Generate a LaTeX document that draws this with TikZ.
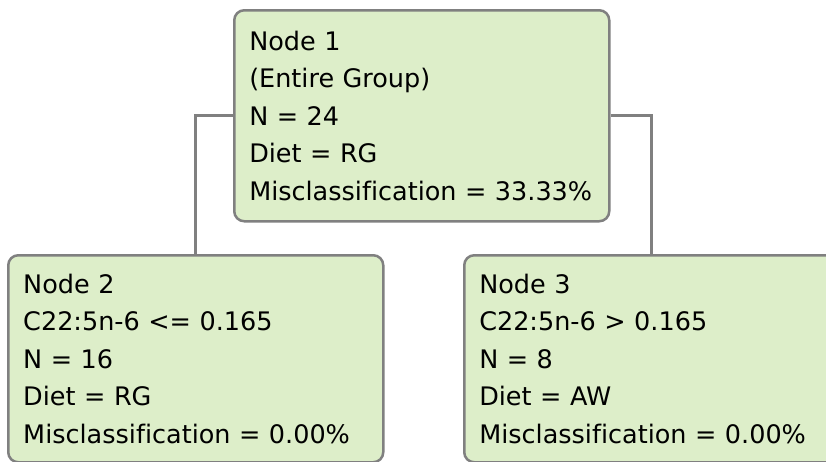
\documentclass[tikz,border=0pt]{standalone}
\usepackage{fontspec}
\setmainfont[Ligatures=NoCommon]{DejaVu Sans}
\usetikzlibrary{calc}

\definecolor{leafgreen}{RGB}{221,238,201}
\definecolor{edgegray}{RGB}{128,128,128}

\tikzset{
  treenode/.style={draw=edgegray, line width=2.5pt, fill=leafgreen,
    rounded corners=10pt, anchor=north west,
    minimum width=375pt, minimum height=211pt,
    text width=345pt, inner xsep=15pt, inner ysep=0pt, align=left,
    font=\fontsize{25.5}{37.5}\selectfont},
  branch/.style={edgegray, line width=3pt}
}

\begin{document}
\begin{tikzpicture}[x=1pt,y=-1pt]
        \useasboundingbox (0,0) rectangle (826,461);
        \clip (0,0) rectangle (826,461);
        \fill[white] (0,0) rectangle (826,461);
        % root
        \node[treenode] (n1) at (233,9) {Node 1\\(Entire Group)\\N = 24\\Diet = RG\\Misclassification = 33.33\%};
        % left split
        \node[treenode, minimum height=207pt] (n2) at (7,254) {Node 2\\C22:5n-6 <= 0.165\\N = 16\\Diet = RG\\Misclassification = 0.00\%};
        % right split
        \node[treenode, minimum height=207pt] (n3) at (463,254) {Node 3\\C22:5n-6 > 0.165\\N = 8\\Diet = AW\\Misclassification = 0.00\%};

        \draw[branch] (n1.west) -| (n2.north);
        \draw[branch] (n1.east) -| (n3.north);
\end{tikzpicture}
\end{document}
